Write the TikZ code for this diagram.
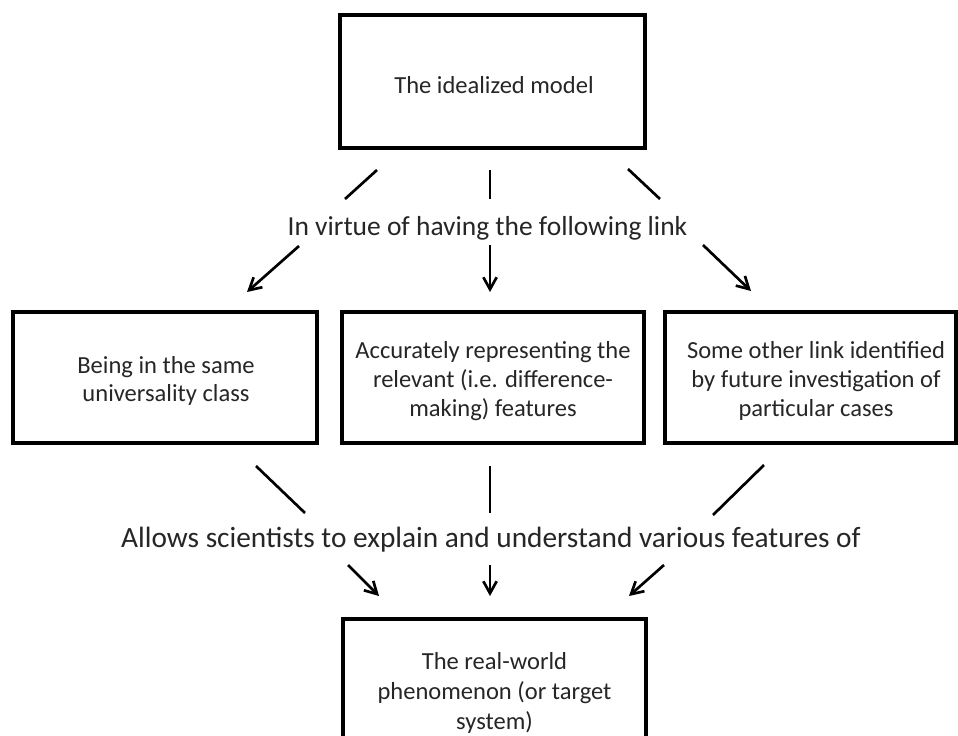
\documentclass[tikz,border=0pt]{standalone}
\usepackage{fontspec}
\setmainfont{Carlito}
\usetikzlibrary{arrows.meta}
\definecolor{ink}{HTML}{262626}
\tikzset{
  box/.style={draw=black, line width=3pt, inner sep=0pt, align=center, font=\fontsize{18.4}{21.5}\selectfont, text=ink},
  lbl/.style={text=ink, inner sep=0pt, align=center},
  seg/.style={draw=black, line width=2pt},
  arr/.style={seg, -{Straight Barb[length=9pt,width=10pt,line width=2pt]}}
}
\begin{document}
\begin{tikzpicture}[x=0.75pt,y=-0.75pt]
\useasboundingbox (0,0) rectangle (958,736);
\fill[white] (0,0) rectangle (958,736);
\begin{scope}
\clip (0,0) rectangle (958,736);
% boxes
\node[box, minimum width=305*0.75pt, minimum height=133*0.75pt] (top) at (492.5,81.5) {};
\node[box, minimum width=304*0.75pt, minimum height=131*0.75pt] (left) at (165,377.5) {};
\node[box, minimum width=302*0.75pt, minimum height=131*0.75pt] (mid) at (493,377.5) {};
\node[box, minimum width=291*0.75pt, minimum height=131*0.75pt] (right) at (810.5,377.5) {};
\node[box, minimum width=303*0.75pt, minimum height=148*0.75pt] (bot) at (494.5,693) {};
\node[lbl, font=\fontsize{18.4}{21.5}\selectfont] (toptxt) at (494,85) {The idealized model};
\node[lbl, font=\fontsize{18.4}{21}\selectfont] (lefttxt) at (166,381) {Being in the same\\universality class};
\node[lbl, font=\fontsize{18.4}{21.75}\selectfont] (midtxt) at (493,381) {Accurately representing the\\relevant (i.e. difference-\\making) features};
\node[lbl, font=\fontsize{18.4}{21.75}\selectfont] (righttxt) at (816,381) {Some other link identified\\by future investigation of\\particular cases};
\node[lbl, font=\fontsize{18.4}{22.5}\selectfont] (bottxt) at (494.5,693) {The real-world\\phenomenon (or target\\system)};
% labels
\node[lbl, font=\fontsize{20.6}{24}\selectfont] (link) at (487.5,228) {In virtue of having the following link};
\node[lbl, font=\fontsize{22}{26}\selectfont] (allows) at (491,540) {Allows scientists to explain and understand various features of};
% coordinates
\coordinate (a1) at (377,170); \coordinate (a2) at (345,199);
\coordinate (b1) at (490,170); \coordinate (b2) at (490,199);
\coordinate (c1) at (628,169); \coordinate (c2) at (660,199);
\coordinate (d1) at (299,246); \coordinate (d2) at (247,292);
\coordinate (e1) at (490,245); \coordinate (e2) at (490,292);
\coordinate (f1) at (703,245); \coordinate (f2) at (751,291);
\coordinate (g1) at (256,466); \coordinate (g2) at (305,513);
\coordinate (h1) at (490,466); \coordinate (h2) at (490,513);
\coordinate (i1) at (764,465); \coordinate (i2) at (713,515);
\coordinate (j1) at (348,565); \coordinate (j2) at (379,596);
\coordinate (k1) at (490,565); \coordinate (k2) at (490,596);
\coordinate (l1) at (664,565); \coordinate (l2) at (629,596);
\draw[seg] (a1) -- (a2);
\draw[seg] (b1) -- (b2);
\draw[seg] (c1) -- (c2);
\draw[arr] (d1) -- (d2);
\draw[arr] (e1) -- (e2);
\draw[arr] (f1) -- (f2);
\draw[seg] (g1) -- (g2);
\draw[seg] (h1) -- (h2);
\draw[seg] (i1) -- (i2);
\draw[arr] (j1) -- (j2);
\draw[arr] (k1) -- (k2);
\draw[arr] (l1) -- (l2);
\end{scope}
\end{tikzpicture}
\end{document}
